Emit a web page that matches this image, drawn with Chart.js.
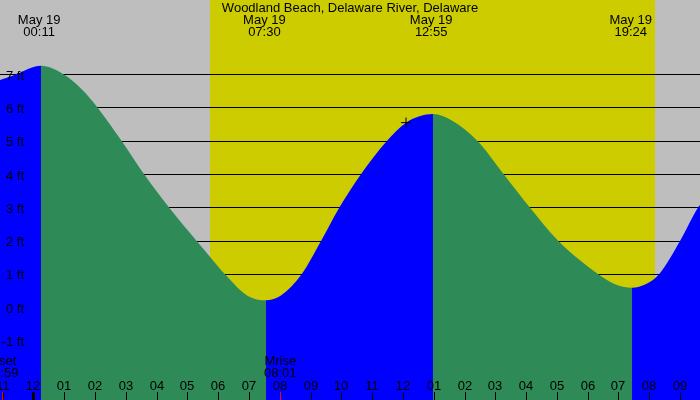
<!DOCTYPE html>
<html>
<head>
<meta charset="utf-8">
<title>Woodland Beach tides</title>
<script src="https://cdn.jsdelivr.net/npm/chart.js@4"></script>
<style>
    html, body { margin: 0; padding: 0; background: #bebebe; }
    canvas { display: block; }
</style>
</head>
<body>
<canvas id="tide-chart" width="700" height="400"></canvas>
<script>
// Chart text
const chartTitle = 'Woodland Beach, Delaware River, Delaware';

// Tide curve (hours from midnight May 19, feet)
const tideHours = [-1.09, -0.60, 0.2437, 1.00, 1.59, 2.09, 2.87, 3.60, 4.41, 5.30, 5.73, 6.22,
    6.95, 7.552, 8.05, 8.71, 9.34, 9.93, 10.63, 11.47, 12.10, 12.976, 13.60, 14.43,
    15.28, 16.13, 17.05, 18.35, 18.85, 19.44, 19.90, 20.32, 21.00, 21.58, 21.68];
const tideFeet = [6.84, 7.00, 7.27, 7.00, 6.54, 6.00, 5.00, 4.00, 3.00, 2.00, 1.53, 1.00,
    0.36, 0.22, 0.37, 1.00, 2.00, 3.00, 4.00, 5.00, 5.56, 5.82, 5.62, 5.00,
    4.00, 3.00, 2.00, 1.00, 0.72, 0.60, 0.71, 1.00, 2.00, 3.00, 3.12];

// High / low labels along the top
const eventDates = ['May 19', 'May 19', 'May 19', 'May 19'];
const eventTimes = ['00:11', '07:30', '12:55', '19:24'];

// Current time marker
const markerHours = [12.10];
const markerFeet = [5.56];

// Daylight (sunrise, sunset)
const sunTimes = ['05:44', '20:11'];

// Moon events along the bottom
const moonLabels = ['Mset', 'Mrise'];
const moonTimes = ['22:59', '08:01'];
const moonDays = [-1, 0];

// Horizontal levels
const feetLevels = [-1, 0, 1, 2, 3, 4, 5, 6, 7];

// Hour ticks along the bottom
const hourValues = [-1, 0, 1, 2, 3, 4, 5, 6, 7, 8, 9, 10, 11, 12, 13, 14, 15, 16, 17, 18, 19, 20, 21];
const hourLabels = ['11', '12', '01', '02', '03', '04', '05', '06', '07', '08', '09', '10',
    '11', '12', '01', '02', '03', '04', '05', '06', '07', '08', '09'];

const FONT = '13px "Liberation Sans", Arial, sans-serif';
const RISING = '#0000ff';
const FALLING = '#2e8b57';

/**
 * Turn "hh:mm" into hours
 * @param {string} str
 * @param {number} dayOffset
 * @returns {number}
 */
function toHours(str, dayOffset = 0) {
    const [h, m] = str.split(':').map(Number);
    return dayOffset * 24 + h + m / 60;
}

// Day / night background behind everything
const backgroundPlugin = {
    id: 'dayNight',
    beforeDraw(chart) {
        const {ctx, scales: {x}} = chart;
        ctx.save();
        ctx.fillStyle = '#bebebe';
        ctx.fillRect(0, 0, chart.width, chart.height);
        const x0 = Math.round(x.getPixelForValue(toHours(sunTimes[0])));
        const x1 = Math.round(x.getPixelForValue(toHours(sunTimes[1])));
        ctx.fillStyle = '#cccc00';
        ctx.fillRect(x0, 0, x1 - x0, chart.height);
        ctx.restore();
    }
};

// All the text and bottom ticks on top of the fill
const labelsPlugin = {
    id: 'tideLabels',
    afterDraw(chart) {
        const {ctx, scales: {x, y}} = chart;
        ctx.save();
        ctx.font = FONT;
        ctx.fillStyle = '#000';
        ctx.textAlign = 'center';
        ctx.textBaseline = 'alphabetic';

        ctx.fillText(chartTitle, chart.width / 2, 12);

        eventTimes.forEach((t, i) => {
            const px = x.getPixelForValue(toHours(t));
            ctx.fillText(eventDates[i], px, 24);
            ctx.fillText(t, px, 36);
        });

        // feet labels
        ctx.textAlign = 'right';
        feetLevels.forEach(v => {
            ctx.fillText(v + ' ft', 24, Math.round(y.getPixelForValue(v)) + 5);
        });

        // moon rise / set
        ctx.textAlign = 'center';
        moonLabels.forEach((label, i) => {
            const px = x.getPixelForValue(toHours(moonTimes[i], moonDays[i]));
            ctx.fillText(label, px, 365);
            ctx.fillText(moonTimes[i], px, 377);
        });

        // hours and ticks
        hourValues.forEach((h, i) => {
            const px = Math.round(x.getPixelForValue(h));
            ctx.fillText(hourLabels[i], px, 390);
            if (h === 0) {
                ctx.fillRect(px - 1, 392, 3, 8);
            } else {
                ctx.fillRect(px, 392, 1, 8);
            }
        });

        ctx.fillStyle = '#ff0000';
        moonTimes.forEach((t, i) => {
            const px = Math.round(x.getPixelForValue(toHours(t, moonDays[i])));
            ctx.fillRect(px, 392, 1, 8);
        });
        ctx.restore();
    }
};

const tidePoints = tideHours.map((h, i) => ({x: h, y: tideFeet[i]}));
const markerPoints = markerHours.map((h, i) => ({x: h, y: markerFeet[i]}));

new Chart(document.getElementById('tide-chart'), {
    type: 'line',
    data: {
        datasets: [{
            label: 'Now',
            data: markerPoints,
            showLine: false,
            pointStyle: 'cross',
            pointRadius: 5,
            borderColor: '#000',
            borderWidth: 1
        }, {
            label: 'Tide',
            data: tidePoints,
            fill: 'start',
            cubicInterpolationMode: 'monotone',
            backgroundColor: FALLING,
            borderColor: 'rgba(0,0,0,0)',
            borderWidth: 0,
            pointRadius: 0,
            segment: {
                backgroundColor: ctx => ctx.p1.parsed.y >= ctx.p0.parsed.y ? RISING : FALLING
            }
        }]
    },
    options: {
        responsive: false,
        animation: false,
        devicePixelRatio: 1,
        events: [],
        layout: { padding: 0, autoPadding: false },
        plugins: {
            legend: { display: false },
            tooltip: { enabled: false }
        },
        scales: {
            x: {
                type: 'linear',
                display: false,
                min: -1.088,
                max: 21.649
            },
            y: {
                type: 'linear',
                min: -2.777,
                max: 9.246,
                afterBuildTicks: scale => {
                    scale.ticks = feetLevels.map(v => ({value: v}));
                },
                ticks: { display: false },
                border: { display: false },
                grid: { color: '#000', lineWidth: 1, drawTicks: false }
            }
        }
    },
    plugins: [backgroundPlugin, labelsPlugin]
});
</script>
</body>
</html>
